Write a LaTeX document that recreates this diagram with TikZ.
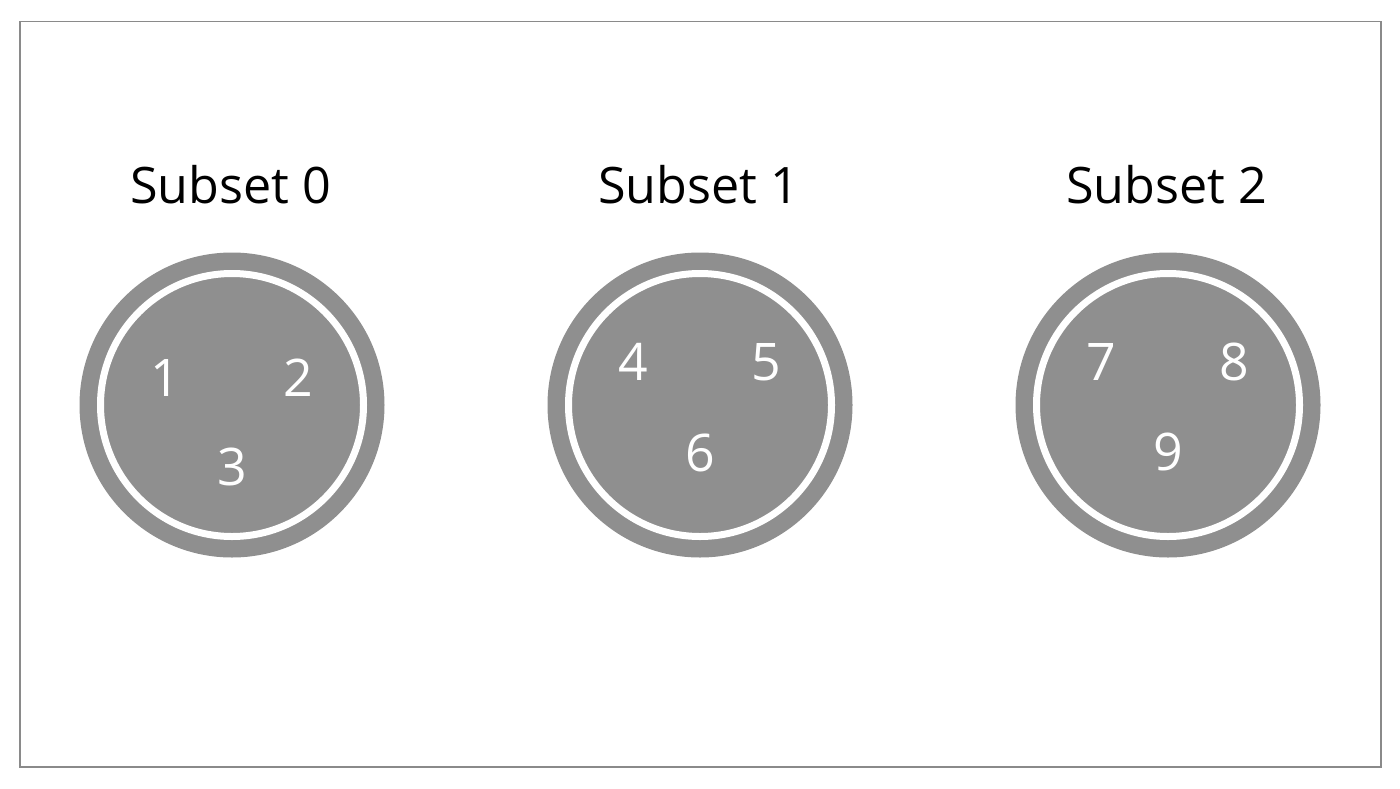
\documentclass[tikz,border=0pt]{standalone}
\usepackage{fontspec}
\setmainfont{Open Sans}
\definecolor{discgray}{HTML}{8F8F8F}
\definecolor{framegray}{HTML}{8A8A8A}
\begin{document}
\begin{tikzpicture}
[subset disc/.style={circle,fill=discgray,inner sep=0pt,minimum size=6.1cm},
subset ring/.style={circle,draw=white,line width=0.14cm,inner sep=0pt,minimum size=5.26cm},
subset title/.style={anchor=base,font=\fontsize{28.6}{34}\selectfont},
member/.style={text=white,inner sep=0pt,font=\fontsize{29.5}{34}\selectfont}]
\useasboundingbox (0,0) rectangle (28,-15.76);
\draw[framegray,line width=0.04cm] (0.39,-0.43) rectangle (27.61,-15.34);
\foreach \k/\x/\a/\b/\c/\up/\down in {0/4.64/1/2/3/0.54/1.24,1/14/4/5/6/0.86/0.96,2/23.36/7/8/9/0.86/0.94}
{
\node[subset disc] (disc\k) at (\x,-8.1) {};
\node[subset ring] (ring\k) at (disc\k) {};
\node[subset title] (title\k) at (\x-0.03,-4.06) {Subset \k};
\node[member] (m\a) at ([xshift=-1.34cm,yshift=\up cm]disc\k.center) {\a};
\node[member] (m\b) at ([xshift=1.32cm,yshift=\up cm]disc\k.center) {\b};
\node[member] (m\c) at ([xshift=0.01cm,yshift=-\down cm]disc\k.center) {\c};
}
\end{tikzpicture}
\end{document}
